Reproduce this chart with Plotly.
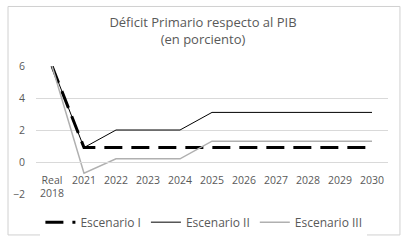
import plotly.graph_objects as go

categories = ["Real<br>2018", "2021", "2022", "2023", "2024", "2025", "2026", "2027", "2028", "2029", "2030"]
escenario_1 = [6, 0.9, 0.9, 0.9, 0.9, 0.9, 0.9, 0.9, 0.9, 0.9, 0.9]
escenario_2 = [6, 0.9, 2, 2, 2, 3.1, 3.1, 3.1, 3.1, 3.1, 3.1]
escenario_3 = [6, -0.7, 0.2, 0.2, 0.2, 1.3, 1.3, 1.3, 1.3, 1.3, 1.3]
y_ticks = [-2, 0, 2, 4, 6]

font_family = "Open Sans, Liberation Sans, sans-serif"
gray_text = "#595959"

fig = go.Figure()
fig.add_trace(go.Scatter(x=categories, y=escenario_1, mode="lines", name="Escenario I",
                         line=dict(color="black", width=3, dash="18px,9px")))
fig.add_trace(go.Scatter(x=categories, y=escenario_2, mode="lines", name="Escenario II",
                         line=dict(color="black", width=1)))
fig.add_trace(go.Scatter(x=categories, y=escenario_3, mode="lines", name="Escenario III",
                         line=dict(color="#b0b0b0", width=1.5)))

fig.update_layout(
    width=406, height=245,
    margin=dict(l=36, r=18, t=66, b=51, autoexpand=False),
    paper_bgcolor="white", plot_bgcolor="white",
    font=dict(family=font_family, size=10, color=gray_text),
    title=dict(text="Déficit Primario respecto al PIB<br>(en porciento)",
               x=0.5, xanchor="center", y=0.89, yanchor="top",
               font=dict(size=13, color=gray_text)),
    showlegend=True,
    legend=dict(orientation="h", x=0.477, xanchor="center", y=-0.22, yanchor="middle",
                font=dict(size=12, color=gray_text), itemwidth=30, tracegroupgap=0),
    xaxis=dict(type="category", range=[-0.5, 10.5], anchor="free", position=0.25,
               showgrid=False, showline=True, linecolor="#d9d9d9", linewidth=1, ticks="",
               ticklabelstandoff=8,
               tickfont=dict(size=10.5, color=gray_text), fixedrange=True),
    yaxis=dict(range=[-2, 6], tickvals=y_ticks, showgrid=True, gridcolor="#d9d9d9",
               gridwidth=1, zeroline=False, showline=False, ticks="",
               ticklabelstandoff=10,
               tickfont=dict(size=10.5, color=gray_text), fixedrange=True),
    shapes=[dict(type="rect", xref="paper", yref="paper",
                 x0=-0.0795, x1=1.034, y0=-0.32, y1=1.465,
                 line=dict(color="#d0d0d0", width=1), fillcolor="rgba(0,0,0,0)",
                 layer="above")],
)

fig.write_html("out.html", config={"displayModeBar": False},
               post_script="document.body.style.margin='0';document.body.style.overflow='hidden';")
